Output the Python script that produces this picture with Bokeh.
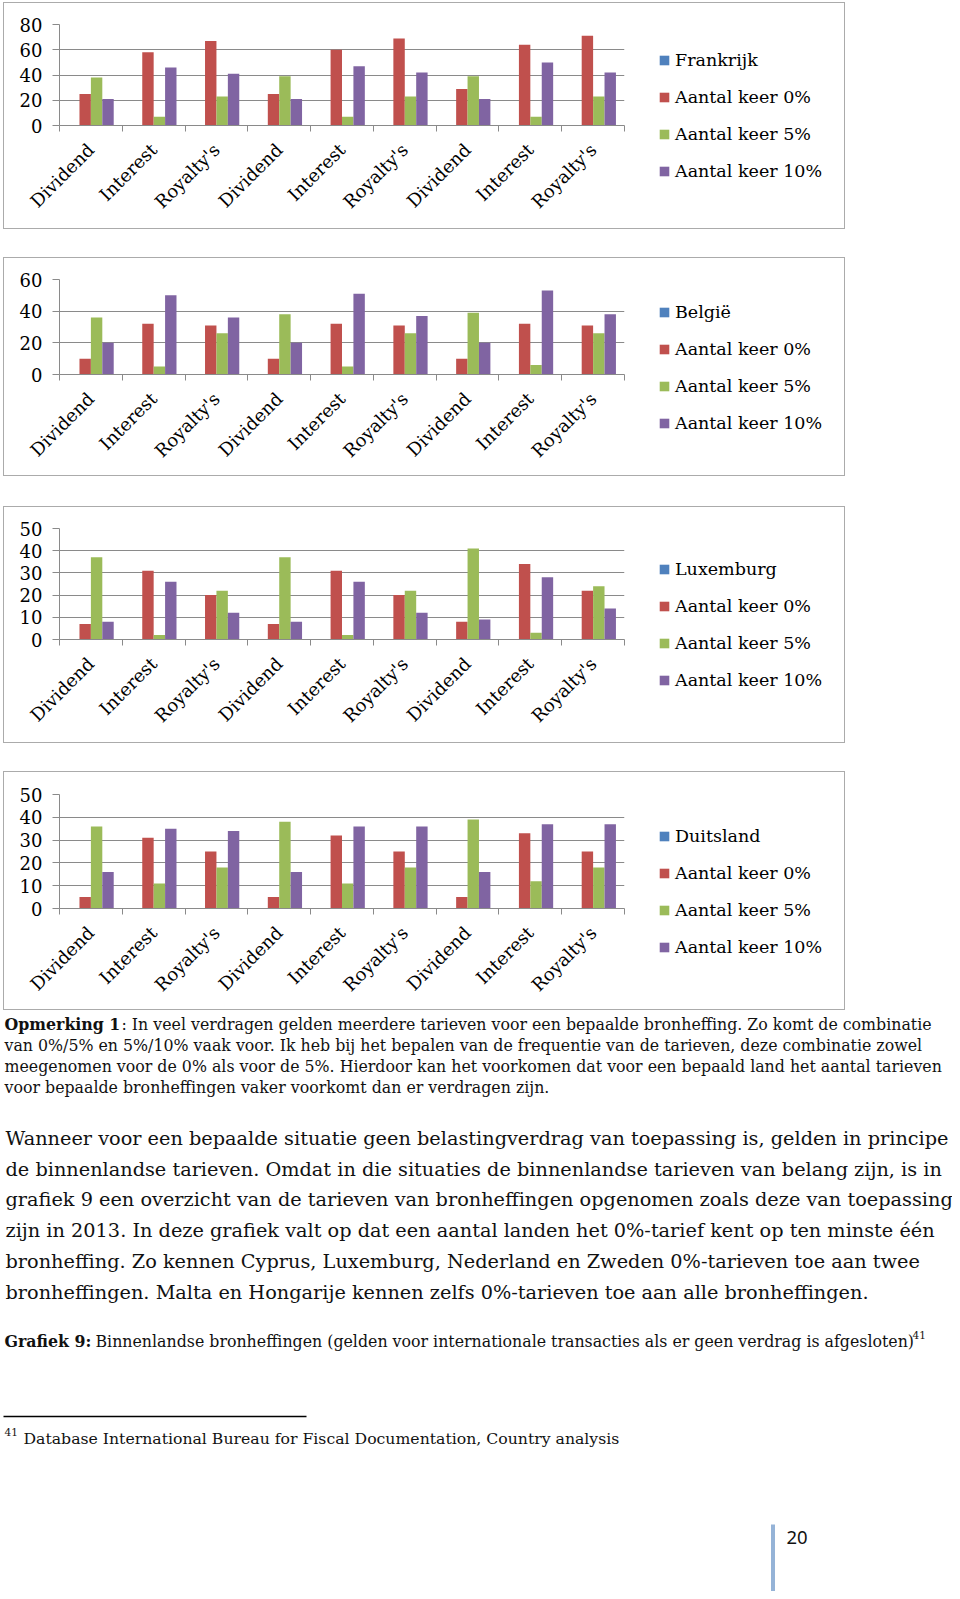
import math
from bokeh.plotting import figure
from bokeh.models import Range1d, FixedTicker, Legend, LegendItem, ColumnDataSource, Spacer
from bokeh.layouts import column, row
from bokeh.transform import dodge
from bokeh.embed import file_html
from bokeh.resources import INLINE
from bokeh.core.properties import value

# ---------------- data ----------------
categories = ["Dividend", "Interest", "Royalty's", "Dividend", "Interest", "Royalty's",
              "Dividend", "Interest", "Royalty's"]
series_labels = ["Aantal keer 0%", "Aantal keer 5%", "Aantal keer 10%"]

countries = ["Frankrijk", "België", "Luxemburg", "Duitsland"]

frankrijk_land = [0, 0, 0, 0, 0, 0, 0, 0, 0]
frankrijk_0 = [25, 58, 67, 25, 60, 69, 29, 64, 71]
frankrijk_5 = [38, 7, 23, 39, 7, 23, 39, 7, 23]
frankrijk_10 = [21, 46, 41, 21, 47, 42, 21, 50, 42]

belgie_land = [0, 0, 0, 0, 0, 0, 0, 0, 0]
belgie_0 = [10, 32, 31, 10, 32, 31, 10, 32, 31]
belgie_5 = [36, 5, 26, 38, 5, 26, 39, 6, 26]
belgie_10 = [20, 50, 36, 20, 51, 37, 20, 53, 38]

luxemburg_land = [0, 0, 0, 0, 0, 0, 0, 0, 0]
luxemburg_0 = [7, 31, 20, 7, 31, 20, 8, 34, 22]
luxemburg_5 = [37, 2, 22, 37, 2, 22, 41, 3, 24]
luxemburg_10 = [8, 26, 12, 8, 26, 12, 9, 28, 14]

duitsland_land = [0, 0, 0, 0, 0, 0, 0, 0, 0]
duitsland_0 = [5, 31, 25, 5, 32, 25, 5, 33, 25]
duitsland_5 = [36, 11, 18, 38, 11, 18, 39, 12, 18]
duitsland_10 = [16, 35, 34, 16, 36, 36, 16, 37, 37]

y_max = [80, 60, 50, 50]
y_step = [20, 20, 10, 10]

opmerking_bold = "Opmerking 1"
opmerking_lines = [
    ": In veel verdragen gelden meerdere tarieven voor een bepaalde bronheffing. Zo komt de combinatie",
    "van 0%/5% en 5%/10% vaak voor. Ik heb bij het bepalen van de frequentie van de tarieven, deze combinatie zowel",
    "meegenomen voor de 0% als voor de 5%. Hierdoor kan het voorkomen dat voor een bepaald land het aantal tarieven",
    "voor bepaalde bronheffingen vaker voorkomt dan er verdragen zijn.",
]
paragraph_lines = [
    "Wanneer voor een bepaalde situatie geen belastingverdrag van toepassing is, gelden in principe",
    "de binnenlandse tarieven. Omdat in die situaties de binnenlandse tarieven van belang zijn, is in",
    "grafiek 9 een overzicht van de tarieven van bronheffingen opgenomen zoals deze van toepassing",
    "zijn in 2013. In deze grafiek valt op dat een aantal landen het 0%-tarief kent op ten minste één",
    "bronheffing. Zo kennen Cyprus, Luxemburg, Nederland en Zweden 0%-tarieven toe aan twee",
    "bronheffingen. Malta en Hongarije kennen zelfs 0%-tarieven toe aan alle bronheffingen.",
]
grafiek_bold = "Grafiek 9:"
grafiek_text = "Binnenlandse bronheffingen (gelden voor internationale transacties als er geen verdrag is afgesloten)"
footnote_mark = "41"
footnote_text = "Database International Bureau for Fiscal Documentation, Country analysis"
page_number = "20"

# ---------------- style ----------------
FONT = "DejaVu Serif"
C_LAND = "#4f81bd"
C_0 = "#c0504d"
C_5 = "#9bbb59"
C_10 = "#8064a2"
GRID = "#8a8a8a"
BOX = "#ababab"


def no_align(fig):
    try:
        fig.frame_align = False
    except AttributeError:
        pass


def make_chart(country, land, v0, v5, v10, ymax, ystep, fig_h, b_top, b_bottom, leg_top):
    p = figure(width=626, height=fig_h, x_range=Range1d(0, 9), y_range=Range1d(0, ymax),
               output_backend="svg", toolbar_location=None,
               min_border_left=56, min_border_right=5,
               min_border_top=b_top, min_border_bottom=b_bottom,
               border_fill_color=None, background_fill_color=None,
               outline_line_color=None)
    no_align(p)
    p.styles = {"box-shadow": "inset 1px 0 0 %s, inset 0 1px 0 %s, inset 0 -1px 0 %s" % (BOX, BOX, BOX)}

    src = ColumnDataSource(dict(x=[i + 0.5 for i in range(len(categories))],
                                land=land, v0=v0, v5=v5, v10=v10))
    w = 1 / 5.5
    p.vbar(x=dodge("x", -1.5 * w), top="land", width=w, source=src,
           fill_color=C_LAND, line_color=None)
    p.vbar(x=dodge("x", -0.5 * w), top="v0", width=w, source=src,
           fill_color=C_0, line_color=None)
    p.vbar(x=dodge("x", 0.5 * w), top="v5", width=w, source=src,
           fill_color=C_5, line_color=None)
    p.vbar(x=dodge("x", 1.5 * w), top="v10", width=w, source=src,
           fill_color=C_10, line_color=None)

    p.xgrid.visible = False
    p.ygrid.grid_line_color = GRID
    p.ygrid.grid_line_width = 1

    p.yaxis.ticker = FixedTicker(ticks=list(range(0, ymax + 1, ystep)))
    p.xaxis.ticker = FixedTicker(ticks=[i + 0.5 for i in range(9)], minor_ticks=list(range(10)))
    overrides = {}
    for i, c in enumerate(categories):
        overrides[i + 0.5] = c
    p.xaxis.major_label_overrides = overrides

    for ax in (p.xaxis[0], p.yaxis[0]):
        ax.axis_line_color = GRID
        ax.major_tick_line_color = GRID
        ax.minor_tick_line_color = GRID
        ax.major_label_text_font = FONT
        ax.major_label_text_font_size = "18px"
        ax.major_label_text_color = "#000000"

    p.xaxis.major_tick_in = 0
    p.xaxis.major_tick_out = 0
    p.xaxis.minor_tick_in = 0
    p.xaxis.minor_tick_out = 6
    p.xaxis.major_label_orientation = math.pi / 4
    p.xaxis.major_label_standoff = 15

    p.yaxis.major_tick_in = 0
    p.yaxis.major_tick_out = 7
    p.yaxis.minor_tick_in = 0
    p.yaxis.minor_tick_out = 0
    p.yaxis.major_label_standoff = 10

    # legend panel (right part of the chart box)
    lg = figure(width=216, height=fig_h, x_range=Range1d(0, 1), y_range=Range1d(0, 1),
                x_axis_type=None, y_axis_type=None, output_backend="svg",
                toolbar_location=None, min_border_left=29, min_border_right=0,
                min_border_top=leg_top, min_border_bottom=0,
                border_fill_color=None, background_fill_color=None,
                outline_line_color=None)
    no_align(lg)
    lg.styles = {"box-shadow": "inset -1px 0 0 %s, inset 0 1px 0 %s, inset 0 -1px 0 %s" % (BOX, BOX, BOX)}
    # legend keys (glyphs kept outside the visible range)
    rl = [lg.vbar(x=[-5], top=[0], width=0.1, fill_color=c, line_color=None)
          for c in (C_LAND, C_0, C_5, C_10)]
    legend = Legend(items=[LegendItem(label=country, renderers=[rl[0]]),
                           LegendItem(label=series_labels[0], renderers=[rl[1]]),
                           LegendItem(label=series_labels[1], renderers=[rl[2]]),
                           LegendItem(label=series_labels[2], renderers=[rl[3]])],
                    location="top_left")
    legend.glyph_width = 12
    legend.glyph_height = 12
    legend.label_height = 21
    legend.spacing = 16
    legend.padding = 0
    legend.margin = 0
    legend.label_standoff = 5
    legend.border_line_color = None
    legend.background_fill_alpha = 0
    legend.label_text_font = FONT
    legend.label_text_font_size = "17.5px"
    legend.label_text_color = "#000000"
    lg.add_layout(legend)
    return row(Spacer(width=3, height=fig_h), p, lg)


c1 = make_chart(countries[0], frankrijk_land, frankrijk_0, frankrijk_5, frankrijk_10,
                y_max[0], y_step[0], 227, 22, 104, 47)
c2 = make_chart(countries[1], belgie_land, belgie_0, belgie_5, belgie_10,
                y_max[1], y_step[1], 219, 22, 102, 44)
c3 = make_chart(countries[2], luxemburg_land, luxemburg_0, luxemburg_5, luxemburg_10,
                y_max[2], y_step[2], 237, 22, 104, 52)
c4 = make_chart(countries[3], duitsland_land, duitsland_0, duitsland_5, duitsland_10,
                y_max[3], y_step[3], 239, 23, 102, 54)

# ---------------- text part (page pixel coordinates) ----------------
t = figure(width=952, height=581, x_range=Range1d(0, 952), y_range=Range1d(1591, 1010),
           x_axis_type=None, y_axis_type=None, output_backend="svg", toolbar_location=None,
           min_border=0, min_border_left=0, min_border_right=0, min_border_top=0,
           min_border_bottom=0, outline_line_color=None, border_fill_color=None,
           background_fill_color=None)
no_align(t)

TXT = "#111111"


def txt(x, y, s, size, bold=False, font=FONT):
    t.text(x=[x], y=[y], text=[s], text_font=value(font), text_font_size=size,
           text_font_style="bold" if bold else "normal", text_color=TXT,
           text_baseline="alphabetic", text_align="left")


# Opmerking
opm_y = [1024, 1045, 1066, 1087]
txt(4, opm_y[0], opmerking_bold, "15.8px", bold=True)
txt(121, opm_y[0], opmerking_lines[0], "15.8px")
for yy, line in zip(opm_y[1:], opmerking_lines[1:]):
    txt(4, yy, line, "15.8px")

# Paragraph
par_y = [1138, 1169, 1199, 1230, 1261, 1292]
for yy, line in zip(par_y, paragraph_lines):
    txt(5, yy, line, "19.3px")

# Grafiek 9
txt(4, 1341, grafiek_bold, "15.8px", bold=True)
txt(95, 1341, grafiek_text, "15.8px")
txt(912, 1334, footnote_mark, "10.5px")

# Footnote
t.segment(x0=[3], y0=[1416], x1=[306], y1=[1416], line_color="#000000", line_width=1.3)
txt(4, 1431, footnote_mark, "10.5px")
txt(23, 1438, footnote_text, "15.7px")

# Page number
t.segment(x0=[772.5], y0=[1524], x1=[772.5], y1=[1591], line_color="#95b3d7", line_width=4)
txt(786, 1537, page_number, "18.5px", font="Noto Sans")

layout = column(Spacer(height=2), c1, Spacer(height=28), c2, Spacer(height=30), c3,
                Spacer(height=28), c4, t)

open("out.html", "w").write(file_html(layout, INLINE))
